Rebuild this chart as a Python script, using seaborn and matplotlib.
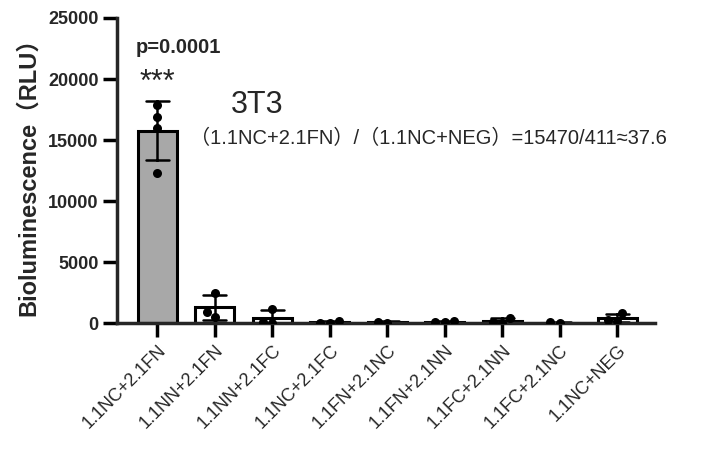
import pandas as pd
import seaborn as sns
from matplotlib import pyplot as plt

# groups on the x axis
groups = ["1.1NC+2.1FN", "1.1NN+2.1FN", "1.1NN+2.1FC", "1.1NC+2.1FC", "1.1FN+2.1NC",
          "1.1FN+2.1NN", "1.1FC+2.1NN", "1.1FC+2.1NC", "1.1NC+NEG"]

# replicate readings (RLU)
rep_values = [
    [17870, 16900, 15980, 12300],
    [520, 930, 2460],
    [1150, 60, 40],
    [20, 150, 30],
    [10, 120],
    [120, 200, 60],
    [20, 420, 100],
    [10, 60],
    [190, 820, 220],
]

y_ticks = [0, 5000, 10000, 15000, 20000, 25000]

rows = []
for g, vals in zip(groups, rep_values):
    for v in vals:
        rows.append({"group": g, "rlu": v})
df = pd.DataFrame(rows)

sns.set_style("ticks")
plt.rcParams["font.family"] = ["Liberation Sans", "Noto Sans CJK SC", "DejaVu Sans"]

fig = plt.figure(figsize=(7.06, 4.5), dpi=100)
ax = fig.add_axes([0.166, 0.282, 0.762, 0.678])

bar_colors = {g: "white" for g in groups}
bar_colors[groups[0]] = "#a8a8a8"

sns.barplot(data=df, x="group", y="rlu", hue="group", order=groups, palette=bar_colors,
            legend=False, errorbar="sd", capsize=0.4, width=0.68, linewidth=2.2,
            edgecolor="black", err_kws={"color": "black", "linewidth": 1.8}, ax=ax)
sns.swarmplot(data=df, x="group", y="rlu", order=groups, color="black", size=6.5, ax=ax)

ax.set_xlim(-0.7, len(groups) - 1 + 0.66)
ax.set_ylim(0, 25000)
ax.set_yticks(y_ticks)
ax.set_yticklabels([str(t) for t in y_ticks], fontweight="bold", fontsize=13)
ax.set_xticks(range(len(groups)))
ax.set_xticklabels(groups, rotation=45, ha="right", rotation_mode="anchor", fontsize=13)
ax.set_xlabel("")
ax.set_ylabel("Bioluminescence（RLU）", fontweight="bold", fontsize=17, labelpad=6)

for side in ["top", "right"]:
    ax.spines[side].set_visible(False)
for side in ["left", "bottom"]:
    ax.spines[side].set_linewidth(2.5)
ax.tick_params(axis="both", width=2.5, length=10, color="black")

ax.text(-0.38, 22620, "p=0.0001", ha="left", va="center", fontsize=14.5, fontweight="bold")
ax.text(0, 19700, "***", ha="center", va="center", fontsize=22)
ax.text(1.74, 17900, "3T3", ha="center", va="center", fontsize=22)
ax.text(0.56, 15160, "（1.1NC+2.1FN）/（1.1NC+NEG）=15470/411≈37.6",
        ha="left", va="center", fontsize=14.5)

plt.savefig("out.png", dpi=100)
